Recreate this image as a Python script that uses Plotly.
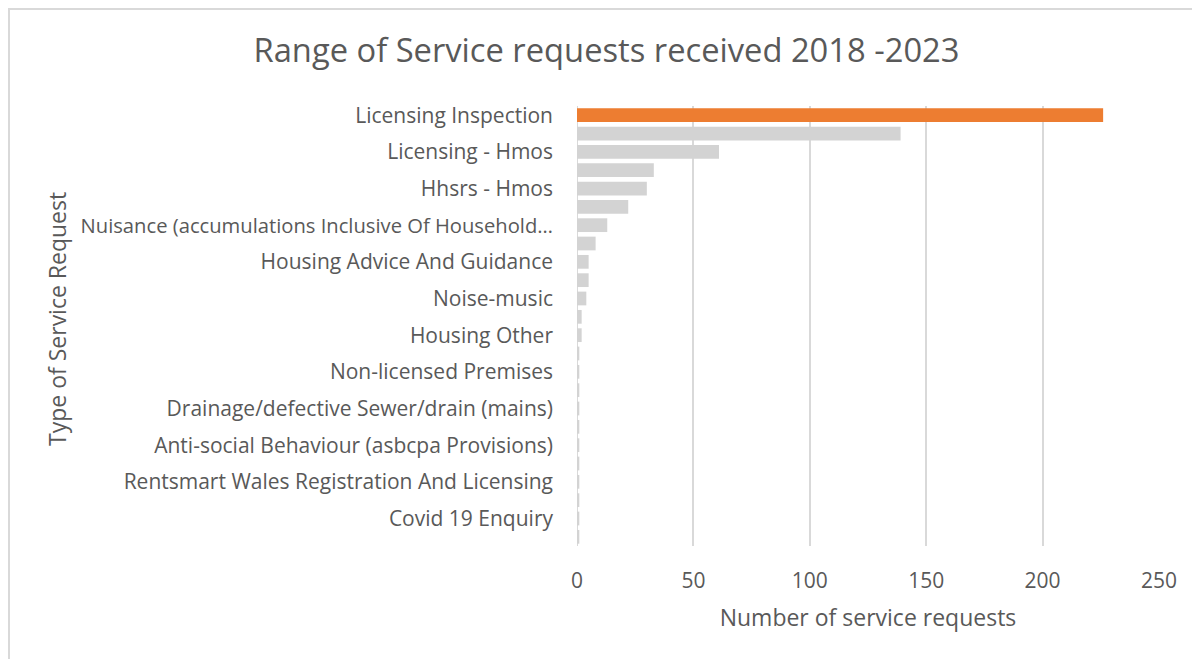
import plotly.graph_objects as go

# Categories ordered top to bottom (only every other label is shown in the source chart)
categories = [
    "Licensing Inspection", "Unlabelled 2",
    "Licensing - Hmos", "Unlabelled 4",
    "Hhsrs - Hmos", "Unlabelled 6",
    "Nuisance (accumulations Inclusive Of Household…", "Unlabelled 8",
    "Housing Advice And Guidance", "Unlabelled 10",
    "Noise-music", "Unlabelled 12",
    "Housing Other", "Unlabelled 14",
    "Non-licensed Premises", "Unlabelled 16",
    "Drainage/defective Sewer/drain (mains)", "Unlabelled 18",
    "Anti-social Behaviour (asbcpa Provisions)", "Unlabelled 20",
    "Rentsmart Wales Registration And Licensing", "Unlabelled 22",
    "Covid 19 Enquiry", "Unlabelled 24",
]
values = [226, 139, 61, 33, 30, 22, 13, 8, 5, 5, 4, 2, 2, 1, 1, 1, 1, 1, 1, 1, 1, 1, 1, 1]
shown_labels = categories[0::2]
x_ticks = [0, 50, 100, 150, 200, 250]

highlight = "#ED7D31"
base = "#D3D3D3"
colors = [highlight if i == 0 else base for i in range(len(values))]

TEXT = "#595959"
GRID = "#D9D9D9"
FONT = "Open Sans"

W, H = 1200, 659
L, R, T, B = 569, 49, 98, 121
pw, ph = W - L - R, H - T - B

# long labels rendered a touch smaller so they don't run into the axis title
tick_text = [
    f'<span style="font-size:20.2px">{s}</span>' if len(s) > 44 else s
    for s in shown_labels
]

fig = go.Figure(go.Bar(
    x=values, y=categories, orientation="h",
    marker=dict(color=colors, line=dict(width=0)),
    hoverinfo="x+y",
))

def px2x(px):
    return (px - L) / pw

def py2y(py):
    return (H - B - py) / ph

fig.update_layout(
    width=W, height=H,
    margin=dict(l=L, r=R, t=T, b=B),
    paper_bgcolor="white", plot_bgcolor="white",
    bargap=0.25,
    showlegend=False,
    font=dict(family=FONT, color=TEXT, size=21),
    title=dict(text="Range of Service requests received 2018 -2023",
               x=598.5 / W, xref="container", xanchor="center",
               y=1 - 43 / H, yref="container", yanchor="middle",
               font=dict(size=32.7, color=TEXT, family=FONT)),
    xaxis=dict(range=[0, 250], tickvals=x_ticks, showgrid=True,
               gridcolor=GRID, gridwidth=2, zeroline=False,
               showline=False, ticks="", ticklabelstandoff=20,
               tickfont=dict(size=21, color=TEXT),
               title=dict(text="Number of service requests",
                          font=dict(size=23, color=TEXT), standoff=16)),
    yaxis=dict(autorange="reversed", type="category",
               tickvals=shown_labels, ticktext=tick_text,
               showgrid=False, zeroline=False, showline=False, ticks="",
               ticklabelstandoff=23,
               tickfont=dict(size=21, color=TEXT)),
    shapes=[
        # vertical axis line at 0
        dict(type="line", xref="x", yref="paper", x0=0, x1=0, y0=0, y1=1,
             line=dict(color=GRID, width=2), layer="below"),
        # outer chart frame
        dict(type="rect", xref="paper", yref="paper",
             x0=px2x(1), x1=px2x(W + 20), y0=py2y(H + 20), y1=py2y(1),
             line=dict(color=GRID, width=2), layer="below"),
    ],
    annotations=[
        dict(text="Type of Service Request", textangle=-90,
             xref="paper", yref="paper", x=px2x(49), y=py2y(311),
             xanchor="center", yanchor="middle", showarrow=False,
             font=dict(size=23, color=TEXT, family=FONT)),
    ],
)

fig.write_html("out.html")
